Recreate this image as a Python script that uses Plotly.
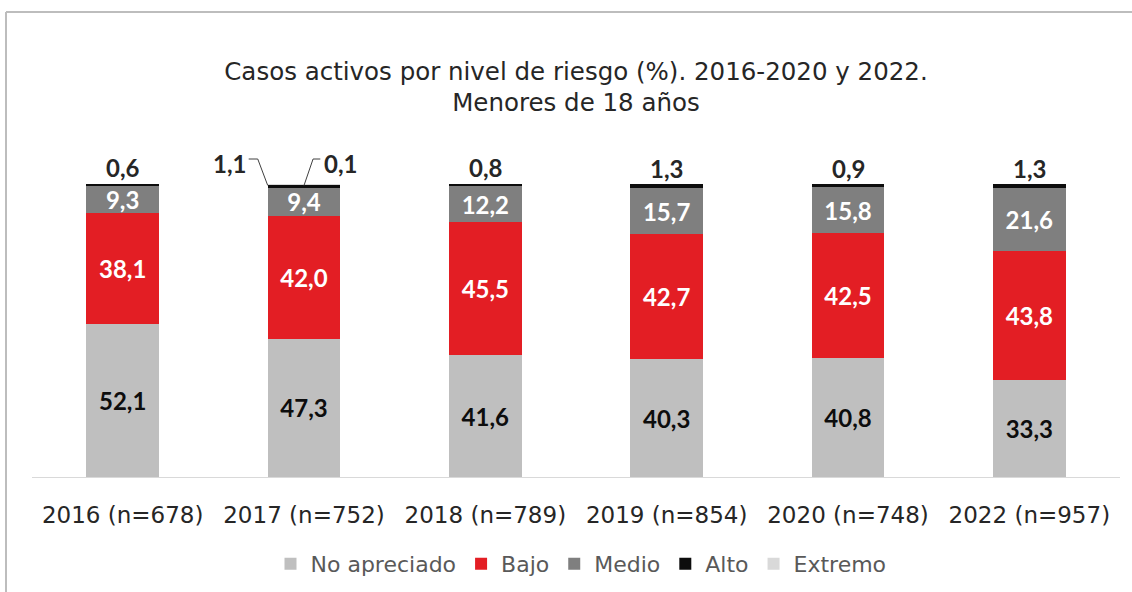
import plotly.graph_objects as go

categories = ["2016 (n=678)", "2017 (n=752)", "2018 (n=789)", "2019 (n=854)", "2020 (n=748)", "2022 (n=957)"]
no_apreciado = [52.1, 47.3, 41.6, 40.3, 40.8, 33.3]
bajo = [38.1, 42.0, 45.5, 42.7, 42.5, 43.8]
medio = [9.3, 9.4, 12.2, 15.7, 15.8, 21.6]
alto = [0.6, 1.1, 0.8, 1.3, 0.9, 1.3]
extremo = [0.0, 0.1, 0.0, 0.0, 0.0, 0.0]
series_names = ["No apreciado", "Bajo", "Medio", "Alto", "Extremo"]
title_text = "Casos activos por nivel de riesgo (%). 2016-2020 y 2022.<br>Menores de 18 años"

W, H = 1132, 592
YMAX = 110
L, R, T, B = 32, 12, 155, 115
pw, ph = W - L - R, H - T - B


def px_x(p):
    return (p - L) / pw


def px_y(p):
    return (H - B - p) / ph


def data_y(p):
    return (H - B - p) / ph * YMAX


def fmt(v):
    return f"{v:.1f}".replace(".", ",")


FONT = "'DejaVu Sans', Verdana, sans-serif"
label_font = dict(family="Lato, 'Open Sans', sans-serif", size=24, weight="bold")

fig = go.Figure()
specs = [
    (no_apreciado, "#BFBFBF", "#0D0D0D", True),
    (bajo, "#E31E24", "#FFFFFF", True),
    (medio, "#7F7F7F", "#FFFFFF", True),
    (alto, "#0D0D0D", "#FFFFFF", False),
    (extremo, "#D9D9D9", "#000000", False),
]
for name, (vals, color, tcolor, show) in zip(series_names, specs):
    fig.add_trace(go.Bar(
        x=categories, y=vals, name=name,
        marker=dict(color=color, line=dict(width=0)),
        text=[fmt(v) for v in vals] if show else None,
        textposition="inside" if show else "none",
        insidetextanchor="middle",
        constraintext="none",
        textfont=dict(color=tcolor, **label_font),
        cliponaxis=False,
        hoverinfo="skip",
    ))

# Alto labels above the bars
totals = [a + b + c + d + e for a, b, c, d, e in zip(no_apreciado, bajo, medio, alto, extremo)]
for i, cat in enumerate(categories):
    if extremo[i] > 0:
        continue
    fig.add_annotation(x=cat, y=totals[i], text=fmt(alto[i]), showarrow=False,
                       yanchor="middle", yshift=16,
                       font=dict(color="#262626", **label_font))

# 2017 callouts (Alto and Extremo)
i17 = 1
top17 = totals[i17]
y_line = data_y(159)
y_txt = data_y(163)
fig.add_annotation(x=i17 - 0.31, y=y_txt, xref="x", text=fmt(alto[i17]), showarrow=False,
                   xanchor="right", yanchor="middle", font=dict(color="#262626", **label_font))
fig.add_annotation(x=i17 + 0.098, y=y_txt, xref="x", text=fmt(extremo[i17]), showarrow=False,
                   xanchor="left", yanchor="middle", font=dict(color="#262626", **label_font))
lc = dict(color="#404040", width=1)
fig.add_shape(type="line", xref="x", yref="y", x0=i17 - 0.20, y0=top17 - 0.3, x1=i17 - 0.255, y1=y_line, line=lc)
fig.add_shape(type="line", xref="x", yref="y", x0=i17 - 0.255, y0=y_line, x1=i17 - 0.305, y1=y_line, line=lc)
fig.add_shape(type="line", xref="x", yref="y", x0=i17, y0=top17 - 0.3, x1=i17 + 0.05, y1=y_line, line=lc)
fig.add_shape(type="line", xref="x", yref="y", x0=i17 + 0.05, y0=y_line, x1=i17 + 0.09, y1=y_line, line=lc)

# chart border (top and left edges visible)
border = dict(color="#BDBDBD", width=2)
fig.add_shape(type="line", xref="paper", yref="paper", x0=px_x(6), y0=px_y(12), x1=px_x(W + 5), y1=px_y(12), line=border)
fig.add_shape(type="line", xref="paper", yref="paper", x0=px_x(6), y0=px_y(12), x1=px_x(6), y1=px_y(H + 5), line=border)

fig.update_layout(
    width=W, height=H,
    margin=dict(l=L, r=R, t=T, b=B, pad=0, autoexpand=False),
    barmode="stack", bargap=0.6,
    separators=",.",
    plot_bgcolor="white", paper_bgcolor="white",
    font=dict(family=FONT, color="#404040"),
    title=dict(text=title_text, x=0.5, xref="paper", xanchor="center",
               y=1 - 79.5 / H, yref="container", yanchor="middle",
               font=dict(size=24.5, color="#262626", family=FONT)),
    showlegend=True,
    legend=dict(orientation="h", x=px_x(581), xanchor="center", y=px_y(564), yanchor="middle",
                font=dict(size=22, color="#595959", family=FONT), itemwidth=30, traceorder="normal"),
    xaxis=dict(showline=True, linecolor="#D9D9D9", linewidth=1, ticks="", showgrid=False,
               automargin=False,
               tickfont=dict(size=23, color="#262626", family=FONT), ticklabelstandoff=17),
    yaxis=dict(range=[0, YMAX], visible=False, showgrid=False, automargin=False),
)

fig.write_html("out.html", post_script="document.body.style.margin='0';",
               config={"displayModeBar": False})
